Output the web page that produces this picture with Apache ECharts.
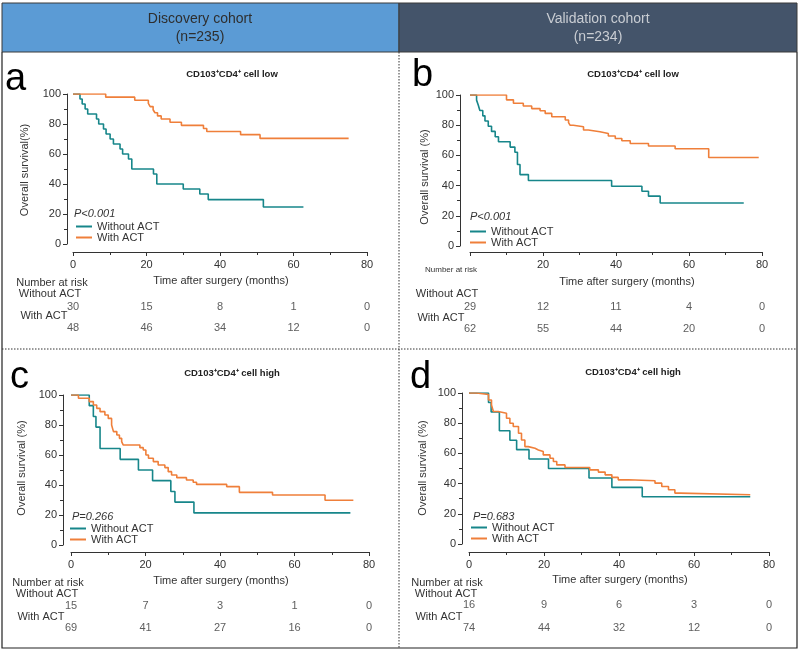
<!DOCTYPE html>
<html><head><meta charset="utf-8">
<script src="https://cdn.jsdelivr.net/npm/echarts@6/dist/echarts.min.js"></script>
<style>html,body{margin:0;padding:0;background:#fff}#c{width:800px;height:654px}</style>
</head><body><div id="c"></div>
<script>
// ---- data ----
const xTicks = [0, 20, 40, 60, 80];
const riskTimes = [0, 20, 40, 60, 80];
const groupNames = ['Without ACT', 'With ACT'];
const panelTitles = ['CD103⁺CD4⁺ cell low', 'CD103⁺CD4⁺ cell low', 'CD103⁺CD4⁺ cell high', 'CD103⁺CD4⁺ cell high'];
const pValues = ['P<0.001', 'P<0.001', 'P=0.266', 'P=0.683'];
const panelLetters = ['a', 'b', 'c', 'd'];

const aWithout = [[0,100],[1.9,96.7],[2.5,93.3],[3.3,90],[4,86.7],[6.4,83.3],[7,80],[8.3,76.7],[9,73.3],[10.1,70],[11,66.7],[12.8,63.3],[13.5,60],[15.1,56.7],[16,50],[21.9,46.7],[22.8,40],[30,36.7],[34.5,33.3],[36.8,29.6],[51.8,24.7],[62.7,24.7]];
const aWith = [[0,100],[8.9,97.9],[16.8,95.8],[20.5,93.7],[21,91.6],[21.8,89.5],[22.3,87.5],[23,85.4],[24,83.3],[26.4,81.2],[29.5,79.1],[35.5,77],[36.4,75],[45.6,72.9],[50.9,70.4],[75,70.4]];
const bWithout = [[0,100],[1.8,96.6],[2.3,93.1],[2.7,89.7],[3.5,86.2],[4.1,82.8],[5,79.3],[5.9,75.9],[6.9,72.4],[7.8,69],[11,65.5],[12.3,62.1],[13,54],[13.7,47.3],[16,43.4],[38.8,39.6],[47.1,36.3],[48.9,33],[52.1,28.5],[75,28.5]];
const bWith = [[0,100],[10,96.8],[11.9,94.5],[14.6,92.7],[16.9,91],[19.2,89.6],[20.6,87.8],[22.4,85.6],[26.1,83.4],[27,81.7],[27.4,80],[28.3,79],[31.1,76.8],[32.4,75.7],[35.6,74.5],[37.9,72.8],[39.8,71.2],[41.6,69.7],[43.9,67.9],[48.9,66.2],[56.2,64.4],[65.4,58.6],[79.1,58.6]];
const cWithout = [[0,100],[4.9,92.9],[6,85.7],[6.7,78.6],[7.8,64.3],[13.2,57.1],[18.1,50],[21.9,42.9],[26.8,35.7],[27.9,28.6],[33,21.4],[75,21.4]];
const cWith = [[0,100],[2,97.8],[4.9,95.6],[6,93.3],[6.9,91.1],[7.8,88.9],[9.1,86.7],[10,84.4],[10.9,80],[11.4,75.6],[12.3,73.3],[13,71.1],[13.6,68.9],[14,66.7],[18.5,64.9],[19.4,63.3],[20.1,60],[20.8,57.8],[22.1,55.6],[23.4,53.3],[25.2,51.6],[26.1,48.9],[27,46.7],[28.4,44.9],[31,43.3],[32.8,41.8],[33.7,40.4],[41.8,38.9],[45.2,35.1],[54.1,33.3],[68.2,29.8],[75.8,29.8]];
const dWithout = [[0,100],[5.2,93.75],[5.9,87.5],[8.1,75],[10.9,68.75],[12.7,62.5],[16,56.25],[21.2,50],[32,43.75],[38.1,37.5],[46.2,31.25],[75,31.25]];
const dWith = [[0,100],[2,99],[5.2,95.4],[6,92.1],[6.5,87.7],[7.8,86.6],[10,83.3],[10.9,80],[11.8,77.8],[13.2,73.3],[14,68.9],[14.9,64.5],[15.8,63.4],[17.6,62.3],[18.5,61.2],[19.8,59],[21.6,56.8],[22.5,54.6],[23.4,52.4],[25.6,50.7],[32.2,49.1],[34.5,47.6],[36.3,45.8],[38.1,44.1],[39.8,42.5],[42.5,41.9],[49.6,40.3],[51.4,38.1],[53.2,35.9],[54.9,33.7],[56.3,32.6],[75,32.6]];

const riskAWithout = [30, 15, 8, 1, 0];
const riskAWith = [48, 46, 34, 12, 0];
const riskBWithout = [29, 12, 11, 4, 0];
const riskBWith = [62, 55, 44, 20, 0];
const riskCWithout = [15, 7, 3, 1, 0];
const riskCWith = [69, 41, 27, 16, 0];
const riskDWithout = [16, 9, 6, 3, 0];
const riskDWith = [74, 44, 32, 12, 0];

// ---- layout ----
const TEAL = '#17868a', ORANGE = '#ef7f3a', AX = '#333';
const FONT = '"Liberation Sans", Arial, sans-serif';
const layout = [
  {grid:{left:73,top:94,width:294,height:150}, yOff:6, xOff:8, risk:{top:307,height:21}, hideZero:false, legend:{left:76,top:221}, pPos:[74,214], letter:[5,80], title:[232,74], yName:[25,170], yNameText:'Overall survival(%)', xName:[221,281],
   rowLabels:[['Number at risk',52,283,11],['Without ACT',50,294,11],['With ACT',44,316,11]]},
  {grid:{left:470,top:95,width:292,height:151}, yOff:10, xOff:6, risk:{top:307,height:22}, hideZero:true, legend:{left:470,top:226}, pPos:[470,217], letter:[412,76], title:[633,74], yName:[425,177], yNameText:'Overall survival (%)', xName:[627,282],
   rowLabels:[['Number at risk',451,270,8],['Without ACT',447,294,11],['With ACT',441,318,11]]},
  {grid:{left:71,top:395,width:298,height:150}, yOff:8, xOff:7, risk:{top:606,height:22}, hideZero:false, legend:{left:70,top:523}, pPos:[72,517], letter:[10,378], title:[232,373], yName:[22,468], yNameText:'Overall survival (%)', xName:[221,581],
   rowLabels:[['Number at risk',48,583,11],['Without ACT',47,594,11],['With ACT',41,617,11]]},
  {grid:{left:469,top:393,width:300,height:151}, yOff:7, xOff:8, risk:{top:605,height:23}, hideZero:false, legend:{left:471,top:522}, pPos:[473,517], letter:[410,378], title:[633,372], yName:[423,468], yNameText:'Overall survival (%)', xName:[620,580],
   rowLabels:[['Number at risk',447,583,11],['Without ACT',446,594,11],['With ACT',439,617,11]]}
];
const curves = [[aWithout,aWith],[bWithout,bWith],[cWithout,cWith],[dWithout,dWith]];
const risks = [[riskAWithout,riskAWith],[riskBWithout,riskBWith],[riskCWithout,riskCWith],[riskDWithout,riskDWith]];

const grids=[], xAxes=[], yAxes=[], series=[], legends=[], graphics=[];
layout.forEach((L,i)=>{
  // KM grid
  grids.push(Object.assign({containLabel:false}, L.grid));
  const gi = grids.length-1;
  xAxes.push({gridIndex:gi, type:'value', min:0, max:80, interval:20, offset:L.xOff, position:'bottom',
    axisLine:{show:true,onZero:false,lineStyle:{color:AX,width:1}},
    axisTick:{show:true,length:4,lineStyle:{color:AX}},
    minorTick:{show:true,splitNumber:2,length:3,lineStyle:{color:AX}},
    splitLine:{show:false},
    axisLabel:{color:AX,fontSize:11,fontFamily:FONT,margin:7,
      formatter:(v)=> (L.hideZero && v===0) ? '' : String(v)}});
  yAxes.push({gridIndex:gi, type:'value', min:0, max:100, interval:20, offset:L.yOff, position:'left',
    axisLine:{show:true,onZero:false,lineStyle:{color:AX,width:1}},
    axisTick:{show:true,length:4,lineStyle:{color:AX}},
    minorTick:{show:true,splitNumber:2,length:3,lineStyle:{color:AX}},
    splitLine:{show:false},
    axisLabel:{color:AX,fontSize:11,fontFamily:FONT,margin:6}});
  [TEAL,ORANGE].forEach((col,k)=>{
    series.push({type:'line', name:groupNames[k], xAxisIndex:gi, yAxisIndex:gi, step:'end',
      data:curves[i][k], showSymbol:false, symbol:'none', lineStyle:{color:col,width:1.6}, itemStyle:{color:col},
      silent:true, animation:false, z:k===1?3:2});
  });
  legends.push({data:groupNames, orient:'vertical', left:L.legend.left, top:L.legend.top, padding:0, itemGap:0,
    icon:'rect', itemWidth:16, itemHeight:2, selectedMode:false,
    textStyle:{fontSize:11, color:AX, fontFamily:FONT, lineHeight:11}});
  // risk table grid
  grids.push({left:L.grid.left, width:L.grid.width, top:L.risk.top, height:L.risk.height});
  const ri = grids.length-1;
  xAxes.push({gridIndex:ri, type:'value', min:0, max:80, show:false});
  yAxes.push({gridIndex:ri, type:'value', min:0, max:1, show:false});
  [1,0].forEach((row,k)=>{
    series.push({type:'scatter', xAxisIndex:ri, yAxisIndex:ri, symbolSize:1, silent:true, animation:false,
      itemStyle:{color:'rgba(0,0,0,0)'},
      data:riskTimes.map((t,j)=>[t,row,risks[i][k][j]]),
      label:{show:true, position:'inside', formatter:(p)=>String(p.value[2]), color:AX, fontSize:11, fontFamily:FONT}});
  });
  // texts
  graphics.push({type:'text', x:L.letter[0], y:L.letter[1], style:{text:panelLetters[i], font:'38px '+FONT, fill:'#000', verticalAlign:'middle'}});
  graphics.push({type:'text', x:L.title[0], y:L.title[1], style:{text:panelTitles[i], font:'bold 9.5px '+FONT, fill:'#222', align:'center', verticalAlign:'middle'}});
  graphics.push({type:'text', x:L.yName[0], y:L.yName[1], rotation:Math.PI/2, style:{text:L.yNameText, font:'11px '+FONT, fill:AX, align:'center', verticalAlign:'middle'}});
  graphics.push({type:'text', x:L.xName[0], y:L.xName[1], style:{text:'Time after surgery (months)', font:'11px '+FONT, fill:AX, align:'center', verticalAlign:'middle'}});
  graphics.push({type:'text', x:L.pPos[0], y:L.pPos[1], style:{text:pValues[i], font:'italic 11px '+FONT, fill:AX, verticalAlign:'middle'}});
  L.rowLabels.forEach(r=>graphics.push({type:'text', x:r[1], y:r[2], style:{text:r[0], font:r[3]+'px '+FONT, fill:AX, align:'center', verticalAlign:'middle'}}));
});

// header and frame
graphics.unshift(
  {type:'rect', shape:{x:2,y:3,width:397,height:49}, style:{fill:'#5b9bd5', stroke:'#3a3a3a', lineWidth:1}},
  {type:'rect', shape:{x:399,y:3,width:398,height:49}, style:{fill:'#44546a', stroke:'#3a3a3a', lineWidth:1}},
  {type:'text', x:200, y:19, style:{text:'Discovery cohort', font:'14px '+FONT, fill:'#2e2e2e', align:'center', verticalAlign:'middle'}},
  {type:'text', x:200, y:37, style:{text:'(n=235)', font:'14px '+FONT, fill:'#2e2e2e', align:'center', verticalAlign:'middle'}},
  {type:'text', x:598, y:19, style:{text:'Validation cohort', font:'14px '+FONT, fill:'#c9cdd3', align:'center', verticalAlign:'middle'}},
  {type:'text', x:598, y:37, style:{text:'(n=234)', font:'14px '+FONT, fill:'#c9cdd3', align:'center', verticalAlign:'middle'}},
  {type:'polyline', shape:{points:[[2,52],[2,648],[797,648],[797,52]]}, style:{stroke:'#222', lineWidth:1.2, fill:null}},
  {type:'line', shape:{x1:399,y1:52,x2:399,y2:648}, style:{stroke:'#333', lineWidth:1, lineDash:[1.5,1.5]}},
  {type:'line', shape:{x1:2,y1:349,x2:797,y2:349}, style:{stroke:'#333', lineWidth:1, lineDash:[1.5,1.5]}}
);

const chart = echarts.init(document.getElementById('c'), null, {renderer:'canvas'});
chart.setOption({animation:false, grid:grids, xAxis:xAxes, yAxis:yAxes, series:series, legend:legends, graphic:graphics});
</script></body></html>
